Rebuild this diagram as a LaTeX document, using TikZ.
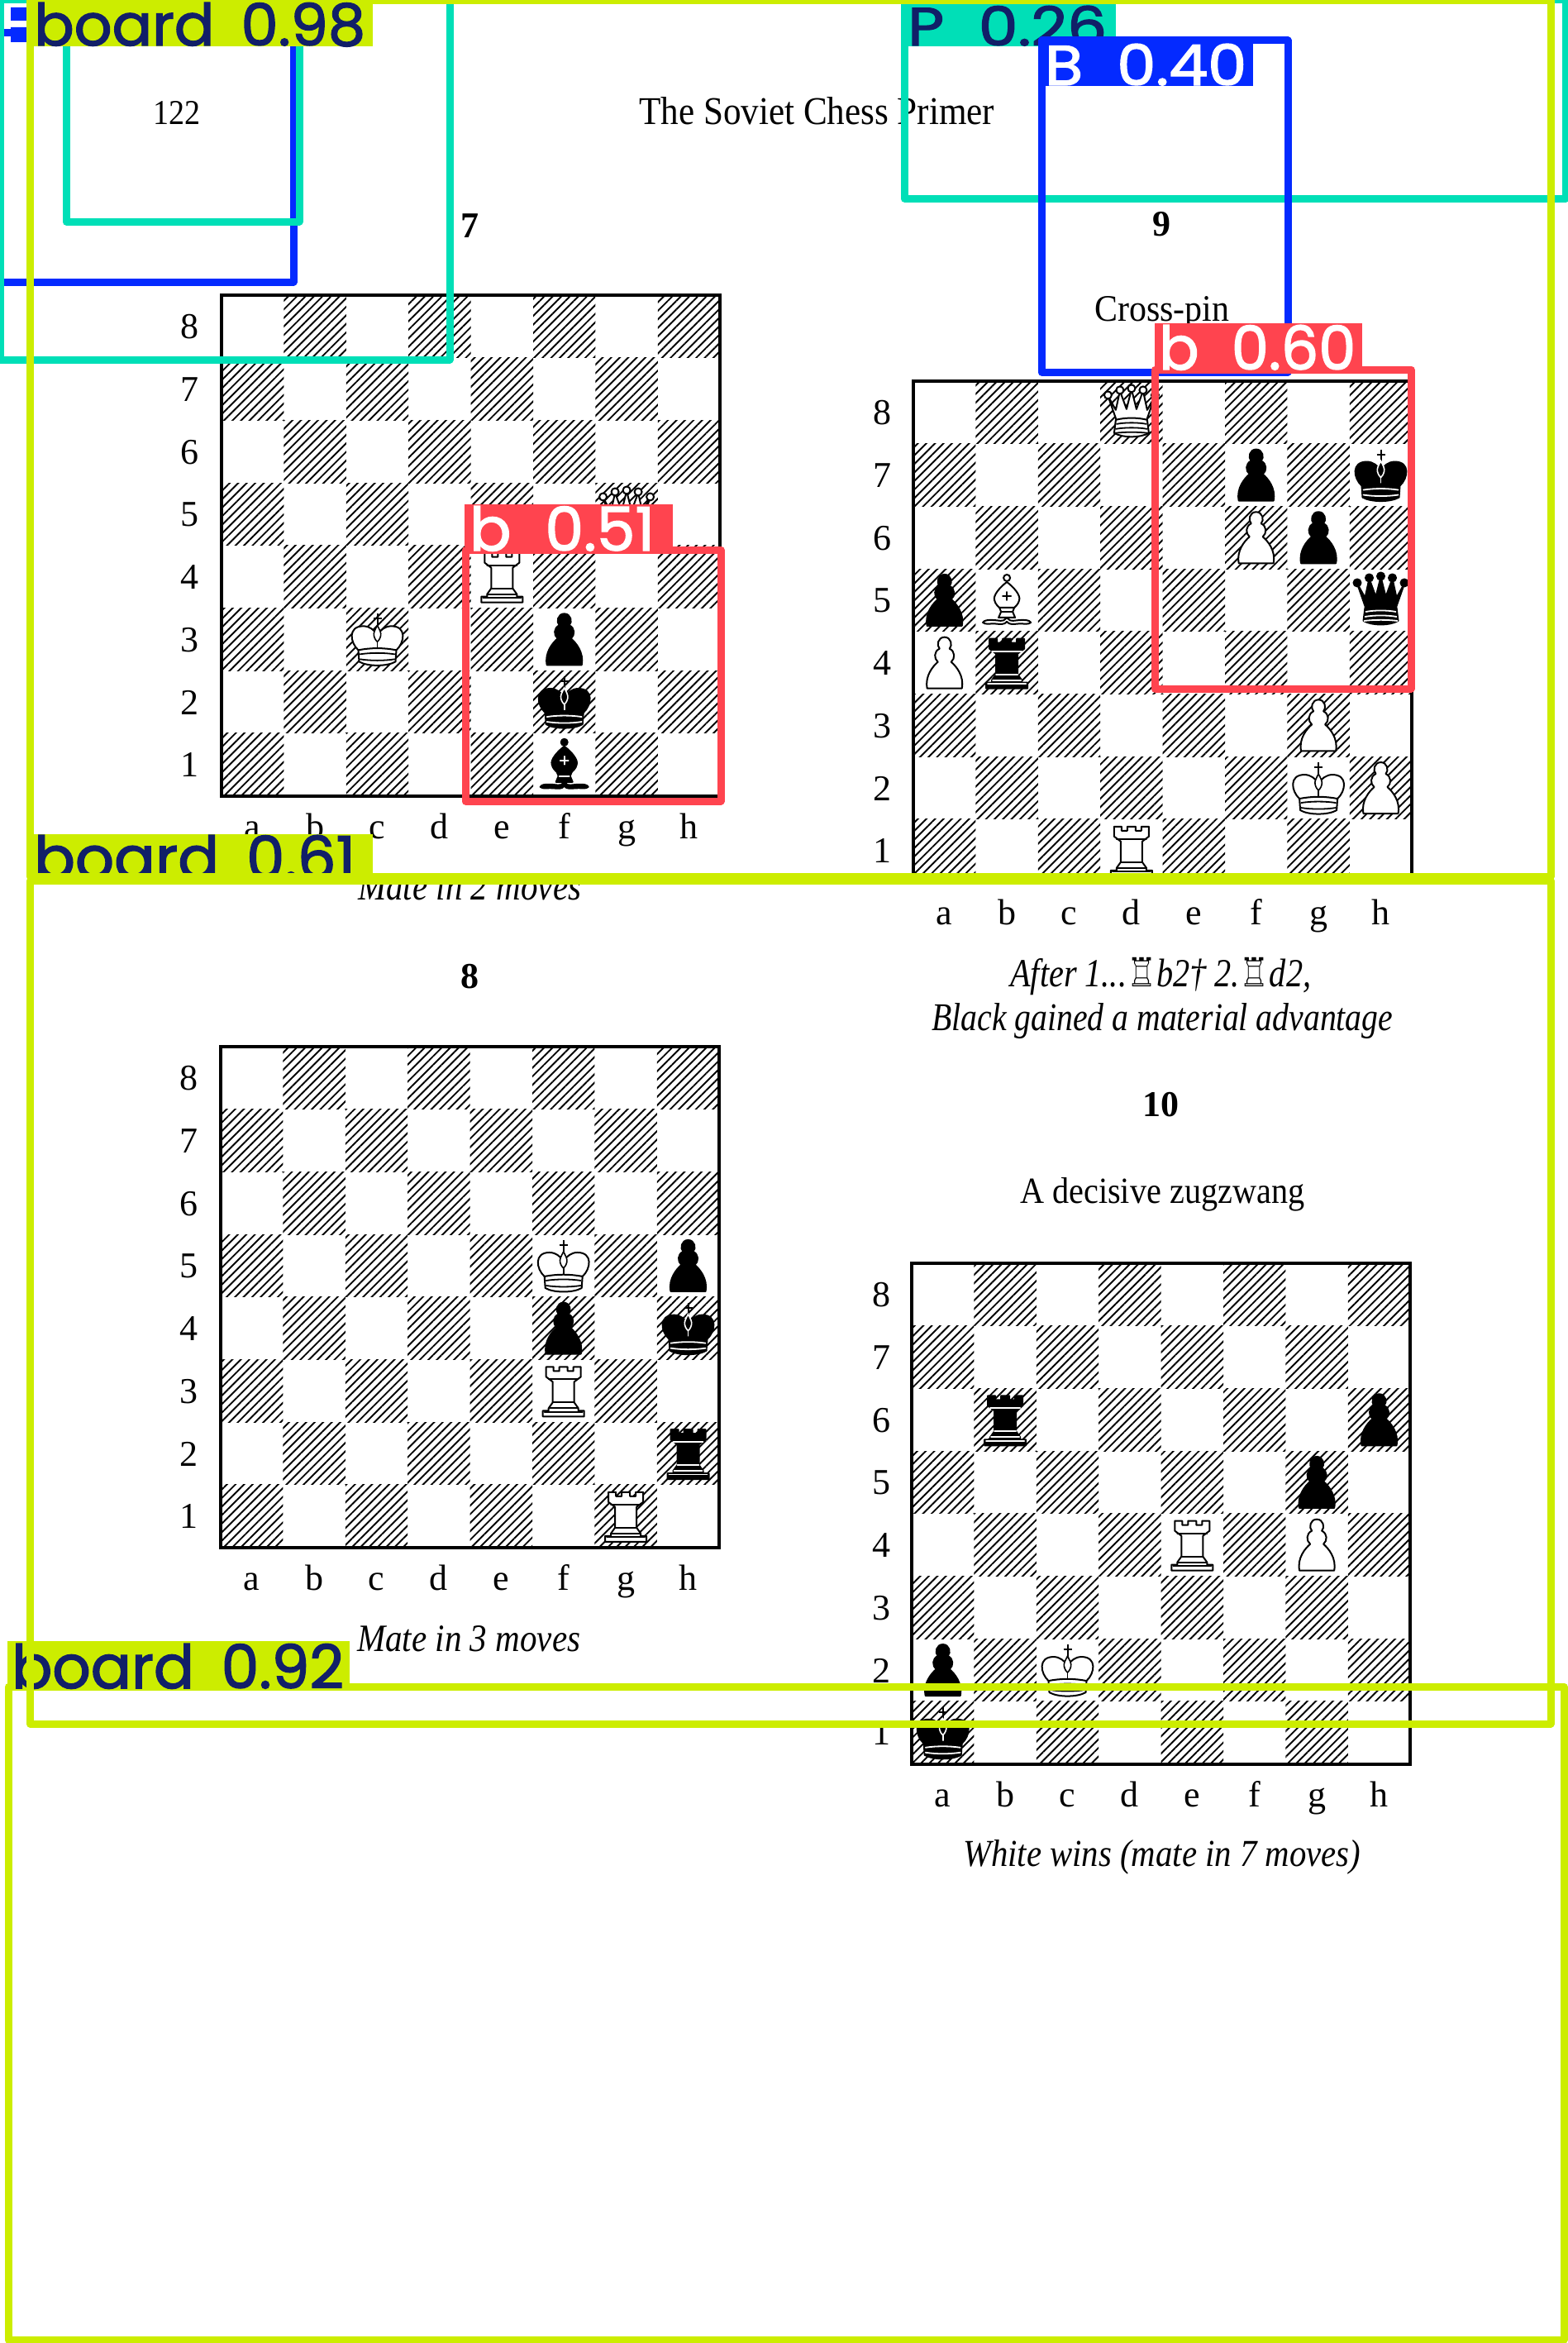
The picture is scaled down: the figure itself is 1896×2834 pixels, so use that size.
\documentclass[tikz,border=0pt]{standalone}
\usepackage{fontspec}
\usepackage{graphicx}
\usetikzlibrary{patterns.meta}
\setmainfont{Liberation Serif}
\newfontfamily\chessfont{DejaVu Sans}
\newfontfamily\labfont{Poppins}[FakeBold=2]
\definecolor{ulyellow}{HTML}{CCED00}
\definecolor{ulteal}{HTML}{00DFB7}
\definecolor{ulblue}{HTML}{042AFF}
\definecolor{ulred}{HTML}{FF444F}
\definecolor{ulnavy}{HTML}{111F68}
\colorlet{pf}{white}
\colorlet{pl}{black}
\tikzset{
  detbox/.style={line width=9pt,line join=round},
  frameline/.style={line width=4pt,draw=black},
  hatchsq/.style={pattern={Lines[angle=45,distance=7.3pt,line width=1.9pt]},pattern color=black},
  plainlabel/.style={inner sep=0pt,anchor=base},
  fitlabel/.style={inner sep=0pt,anchor=base west},
  pieceout/.style={fill=pf,draw=black,line width=2pt,line join=round},
  piecedet/.style={draw=pl,line width=1.8pt,line cap=round},
}
\newcommand{\fs}[1]{\fontsize{#1}{#1}\selectfont}
% fitted text: id, x, baseline, width, height, text
\newcommand{\fittext}[6]{\node[fitlabel] (#1) at (#2,#3) {\resizebox{#4pt}{#5pt}{\fs{40}#6}};}
% detection label: id, x0,y0,x1,y1, bg, textcolor, textx, baseline, w, h, text
\newcommand{\detlabel}[9]{\fill[#6] (#2,#3) rectangle (#4,#5);\detlabelb{#1}{#7}{#8}{#9}}
\newcommand{\detlabelb}[7]{\node[fitlabel,text=#2] (#1) at (#3,#4) {\resizebox{#5pt}{#6pt}{\fs{70}\labfont #7}};}
% pieces, drawn around the centre of their square (y grows downward)
\newcommand{\shapeP}{%
  \path[pieceout] (-21,31) -- (21,31) .. controls (24,16) and (14,4) .. (8,-1)
    .. controls (13,-5) and (13,-14) .. (6,-17) .. controls (10,-21) and (8,-31) .. (0,-31)
    .. controls (-8,-31) and (-10,-21) .. (-6,-17) .. controls (-13,-14) and (-13,-5) .. (-8,-1)
    .. controls (-14,4) and (-24,16) .. (-21,31) -- cycle;}
\newcommand{\shapeK}{%
  \draw[draw=black,line width=2pt] (0,-31) -- (0,-15) (-5,-25) -- (5,-25);
  \path[pieceout] (-23,13) .. controls (-33,4) and (-36,-16) .. (-17,-16)
    .. controls (-9,-16) and (-4,-11) .. (0,-6) .. controls (4,-11) and (9,-16) .. (17,-16)
    .. controls (36,-16) and (33,4) .. (23,13) -- cycle;
  \draw[piecedet] (0,2) -- (0,12);
  \path[fill=pf,draw=pl,line width=1.6pt] (0,-17) .. controls (3,-11) and (5,-8) .. (4,-4)
    .. controls (3,0) and (1,2) .. (0,3) .. controls (-1,2) and (-3,0) .. (-4,-4)
    .. controls (-5,-8) and (-3,-11) .. (0,-17) -- cycle;
  \path[pieceout] (-23,13) .. controls (-8,10) and (8,10) .. (23,13) -- (22,27)
    .. controls (12,33) and (-12,33) .. (-22,27) -- cycle;
  \draw[piecedet] (-21,18) .. controls (-8,16) and (8,16) .. (21,18);
  \draw[piecedet] (-21,24) .. controls (-8,26) and (8,26) .. (21,24);}
\newcommand{\shapeQ}{%
  \path[pieceout] (-18,10) -- (-28.5,-20) -- (-19,-3) -- (-14,-26) -- (-6,-4) -- (0,-28)
    -- (6,-4) -- (14,-26) -- (19,-3) -- (28.5,-20) -- (18,10) -- cycle;
  \path[pieceout] (-28.5,-21) circle[radius=4.5] (-14,-27) circle[radius=4.5]
    (0,-29) circle[radius=4.5] (14,-27) circle[radius=4.5] (28.5,-21) circle[radius=4.5];
  \path[pieceout] (-19,9) .. controls (-8,6) and (8,6) .. (19,9) -- (21,25)
    .. controls (10,31) and (-10,31) .. (-21,25) -- cycle;
  \draw[piecedet] (-18,14) .. controls (-8,12) and (8,12) .. (18,14);
  \draw[piecedet] (-19,20) .. controls (-8,18) and (8,18) .. (19,20);
  \draw[piecedet] (-20,25) .. controls (-8,23.5) and (8,23.5) .. (20,25);}
\newcommand{\shapeR}{%
  \path[pieceout] (-21,-29) -- (-12,-29) -- (-12,-24) -- (-5,-24) -- (-5,-29) -- (5,-29)
    -- (5,-24) -- (12,-24) -- (12,-29) -- (21,-29) -- (21,-17) -- (13,-11) -- (13,14)
    -- (18,21) -- (18,24) -- (25,24) -- (25,31) -- (-25,31) -- (-25,24) -- (-18,24)
    -- (-18,21) -- (-13,14) -- (-13,-11) -- (-21,-17) -- cycle;
  \draw[piecedet] (-18,-14) -- (18,-14) (-13,14) -- (13,14) (-17,21) -- (17,21) (-23,25.5) -- (23,25.5);}
\newcommand{\shapeB}{%
  \path[pieceout] (-1,22) .. controls (-4,27) and (-10,24) .. (-18,24) .. controls (-23,24) and (-27,24) .. (-29,27)
    .. controls (-26,30) and (-20,28) .. (-14,28.5) .. controls (-8,29) and (-3,30) .. (0,26)
    .. controls (3,30) and (8,29) .. (14,28.5) .. controls (20,28) and (26,30) .. (29,27)
    .. controls (27,24) and (23,24) .. (18,24) .. controls (10,24) and (4,27) .. (1,22) -- cycle;
  \path[pieceout] (-9,9) -- (9,9) -- (7,14) -- (10,21) -- (-10,21) -- (-7,14) -- cycle;
  \draw[piecedet] (-6,14) -- (6,14);
  \path[pieceout] (0,-22) .. controls (8,-16) and (17,-6) .. (15,0) .. controls (14,5) and (10,8) .. (9,9)
    -- (-9,9) .. controls (-10,8) and (-14,5) .. (-15,0) .. controls (-17,-6) and (-8,-16) .. (0,-22) -- cycle;
  \path[pieceout] (0,-27) circle[radius=4];
  \draw[piecedet] (-5,-5) -- (5,-5) (0,-10) -- (0,0);}
\newcommand{\pcwK}{\shapeK}
\newcommand{\pcwQ}{\shapeQ}
\newcommand{\pcwR}{\shapeR}
\newcommand{\pcwB}{\shapeB}
\newcommand{\pcwP}{\shapeP}
\newcommand{\pcbK}{\colorlet{pf}{black}\colorlet{pl}{white}\shapeK}
\newcommand{\pcbQ}{\colorlet{pf}{black}\colorlet{pl}{white}\shapeQ}
\newcommand{\pcbR}{\colorlet{pf}{black}\colorlet{pl}{white}\shapeR}
\newcommand{\pcbB}{\colorlet{pf}{black}\colorlet{pl}{white}\shapeB}
\newcommand{\pcbP}{\colorlet{pf}{black}\colorlet{pl}{white}\shapeP}
% board: id, x0, y0, rank label x, pieces
\newcommand{\chessboard}[5]{%
  \foreach \c in {1,...,8}{\foreach \r in {1,...,8}{%
    \pgfmathparse{int(mod(\c+\r,2))}%
    \ifnum\pgfmathresult=0
      \fill[hatchsq] ({#2+(\c-1)*75.4},{#3+(8-\r)*75.7}) rectangle ({#2+\c*75.4},{#3+(9-\r)*75.7});
    \fi}}
  \draw[frameline] (#2,#3) rectangle ({#2+603.2},{#3+605.6});
  \foreach \r in {1,...,8}{
    \node[plainlabel] (#1-rank\r) at (#4,{#3+(8.5-\r)*75.7+15}) {\fs{44}\r};}
  \foreach \c/\l in {1/a,2/b,3/c,4/d,5/e,6/f,7/g,8/h}{
    \node[plainlabel] (#1-file\l) at ({#2+(\c-0.5)*75.4},{#3+605.6+52}) {\fs{44}\l};}
  \foreach \c/\r/\t in {#5}{
    \begin{scope}[shift={({#2+(\c-0.5)*75.4},{#3+(8.5-\r)*75.7})}]
    \csname pc\t\endcsname
    \end{scope}}
}
\begin{document}
\begin{tikzpicture}[x=1pt,y=-1pt]
\fill[white] (0,0) rectangle (1896,2834);
\useasboundingbox (0,0) rectangle (1896,2834);

\chessboard{bsv}{268}{357}{229}{7/5/wQ,5/4/wR,6/3/bP,3/3/wK,6/2/bK,6/1/bB}
\chessboard{bei}{267}{1266}{228}{6/5/wK,8/5/bP,6/4/bP,8/4/bK,6/3/wR,8/2/bR,7/1/wR}
\chessboard{bni}{1105}{461}{1067}{4/8/wQ,6/7/bP,8/7/bK,6/6/wP,7/6/bP,1/5/bP,2/5/wB,8/5/bQ,1/4/wP,2/4/bR,7/3/wP,7/2/wK,8/2/wP,4/1/wR}
\chessboard{bte}{1103}{1528}{1066}{2/6/bR,8/6/bP,7/5/bP,5/4/wR,7/4/wP,1/2/bP,3/2/wK,1/1/bK}

\fittext{pageno}{185}{150}{57}{28}{122}
\fittext{title}{773}{150}{430}{33}{The Soviet Chess Primer}
\node[plainlabel] (num7) at (568,287) {\fs{44}\bfseries 7};
\node[plainlabel] (num8) at (568,1195) {\fs{44}\bfseries 8};
\node[plainlabel] (num9) at (1405,285) {\fs{44}\bfseries 9};
\node[plainlabel] (num10) at (1404,1350) {\fs{44}\bfseries 10};
\fittext{crosspin}{1324}{388}{163}{30}{Cross-pin}
\fittext{zugzwang}{1234}{1455}{344}{31}{A decisive zugzwang}
\fittext{mate2}{433}{1088}{270}{32}{\itshape Mate in 2 moves}
\fittext{mate3}{432}{1997}{270}{31}{\itshape Mate in 3 moves}
\fittext{capa}{1222}{1193}{364}{34}{\itshape After 1...\smash{\chessfont\fs{40}♖}b2† 2.\smash{\chessfont\fs{40}♖}d2,}
\fittext{capb}{1127}{1246}{558}{33}{\itshape Black gained a material advantage}
\fittext{capc}{1165}{2257}{481}{32}{\itshape White wins (mate in 7 moves)}

% teal P box and blue B box
\draw[detbox,ulteal] (1094,0) rectangle (1894,240);
\detlabel{lblP}{1090}{0}{1350}{56}{ulteal}{ulnavy}{1098}{55}
  {241}{48}{P\hspace{0.55em}0.26}
\draw[detbox,ulblue] (1260,49) rectangle (1558,450);
\detlabel{lblB}{1256}{53}{1516}{104}{ulblue}{white}{1264}{103}
  {244}{50}{B\hspace{0.55em}0.40}
% blue box at the top left
\draw[detbox,ulblue] (0,40) rectangle (355,341);
\fill[ulblue] (13,9) rectangle (32,25) (13,33) rectangle (32,51);
% teal boxes at the top left
\draw[detbox,ulteal] (0,0) rectangle (544,435);
\draw[detbox,ulteal] (80,30) rectangle (362,268);
% red boxes
\draw[detbox,ulred] (1397,447) rectangle (1707,833);
\detlabel{lblbsix}{1397}{391}{1648}{443}{ulred}{white}{1402}{447}
  {238}{54}{b\hspace{0.55em}0.60}
\draw[detbox,ulred] (563,665) rectangle (872,969);
\detlabel{lblbfive}{562}{610}{814}{661}{ulred}{white}{568}{666}
  {224}{54}{b\hspace{0.55em}0.51}
% yellow boxes
\draw[detbox,ulyellow] (10,2040) rectangle (1892,2830);
\detlabel{lblbdnine}{9}{1985}{423}{2045}{ulyellow}{ulnavy}{14}{2042}
  {402}{54}{board\hspace{0.45em}0.92}
\detlabel{lblbdsix}{36}{1009}{451}{1056}{ulyellow}{ulnavy}{41}{1063}
  {389}{53}{board\hspace{0.45em}0.61}
\draw[detbox,ulyellow] (36.5,1065) rectangle (1876,2085);
\draw[detbox,ulyellow] (36.5,0.5) rectangle (1876,1060);
\detlabel{lblbdnn}{36}{0}{451}{56}{ulyellow}{ulnavy}{41}{55}
  {401}{52}{board\hspace{0.45em}0.98}
\end{tikzpicture}
\end{document}
